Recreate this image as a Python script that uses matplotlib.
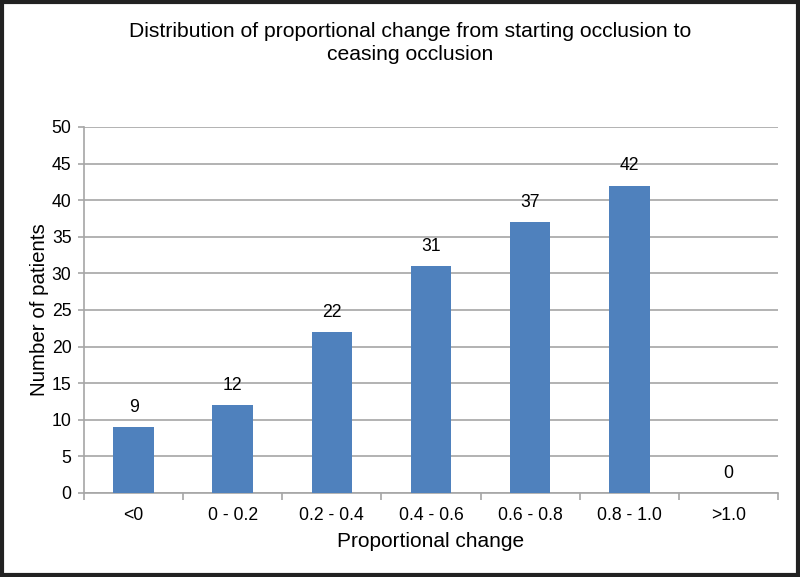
import matplotlib
matplotlib.use("Agg")
import matplotlib.pyplot as plt
from matplotlib.patches import Rectangle

categories = ["<0", "0 - 0.2", "0.2 - 0.4", "0.4 - 0.6", "0.6 - 0.8", "0.8 - 1.0", ">1.0"]
counts = [9, 12, 22, 31, 37, 42, 0]
yticks = [0, 5, 10, 15, 20, 25, 30, 35, 40, 45, 50]

plt.rcParams['font.family'] = ['Liberation Sans', 'DejaVu Sans']

fig = plt.figure(figsize=(8, 5.77), dpi=100)
ax = fig.add_axes([0.105, 0.1456, 0.8675, 0.6343])

x = list(range(len(categories)))
ax.bar(x, counts, width=0.41, color="#4F81BD", zorder=3)
for xi, c in zip(x, counts):
    ax.text(xi, c + 1.55, str(c), ha="center", va="bottom", fontsize=12.7, color="black")

ax.set_xlim(-0.5, len(categories) - 0.5)
ax.set_ylim(0, 50)
ax.set_yticks(yticks)
ax.set_yticklabels([str(v) for v in yticks], fontsize=12.7)
ax.yaxis.grid(True, color="#A6A6A6", linewidth=1.2, zorder=0)
ax.set_axisbelow(True)

ax.set_xticks(x)
ax.set_xticklabels(categories, fontsize=12.7)
ax.tick_params(axis="x", length=0, pad=10)
ax.set_xticks([i + 0.5 for i in range(-1, len(categories))], minor=True)
ax.tick_params(axis="x", which="minor", length=5, color="#A6A6A6", width=1.2)
ax.tick_params(axis="y", length=4, color="#A6A6A6", width=1.2, pad=5)

for s in ["top", "right"]:
    ax.spines[s].set_visible(False)
for s in ["left", "bottom"]:
    ax.spines[s].set_color("#A6A6A6")
    ax.spines[s].set_linewidth(1.2)

ax.set_ylabel("Number of patients", fontsize=14.8, labelpad=2)
ax.set_xlabel("Proportional change", fontsize=15, labelpad=6)

fig.text(0.5125, 0.926, "Distribution of proportional change from starting occlusion to\nceasing occlusion",
         ha="center", va="center", fontsize=15.2, linespacing=1.25)

fig.patches.append(Rectangle((0.003, 0.004), 0.994, 0.992, transform=fig.transFigure,
                             fill=False, edgecolor="#222222", linewidth=3))

fig.savefig("out.png", dpi=100)
